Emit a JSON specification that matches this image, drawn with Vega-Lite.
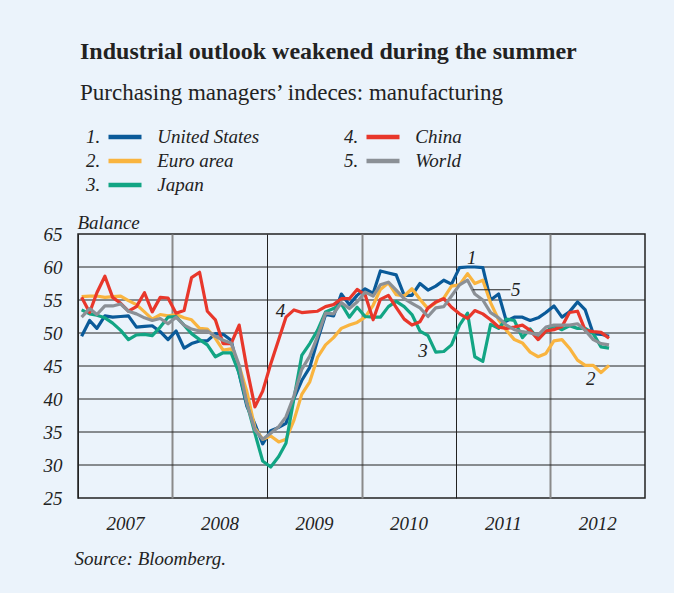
{
  "$schema": "https://vega.github.io/schema/vega-lite/v6.json",
  "width": 567,
  "height": 264,
  "padding": {"left": 43, "top": 40, "right": 29, "bottom": 25},
  "background": "#ebf3fb",
  "config": {
    "font": "Liberation Serif",
    "view": {"stroke": "#222", "strokeWidth": 1.5}
  },
  "title": {
    "text": "Industrial outlook weakened during the summer",
    "subtitle": "Purchasing managers’ indeces: manufacturing",
    "anchor": "start",
    "frame": "group",
    "dx": 2,
    "font": "Liberation Serif",
    "fontSize": 24,
    "fontWeight": "bold",
    "color": "#222",
    "subtitleFont": "Liberation Serif",
    "subtitleFontSize": 23,
    "subtitleColor": "#222",
    "subtitlePadding": 18,
    "offset": 21
  },
  "datasets": {
    "pmi": [
      {"date":"2007-01-15","United States":49.5,"Euro area":55.5,"Japan":53.5,"China":55.4,"World":52.4},
      {"date":"2007-02-15","United States":51.9,"Euro area":55.6,"Japan":52.9,"China":53.1,"World":53.7},
      {"date":"2007-03-15","United States":50.7,"Euro area":55.6,"Japan":52.7,"China":56.1,"World":52.8},
      {"date":"2007-04-15","United States":52.6,"Euro area":55.4,"Japan":52.3,"China":58.6,"World":54.1},
      {"date":"2007-05-15","United States":52.4,"Euro area":55.5,"Japan":51.5,"China":55.4,"World":54.1},
      {"date":"2007-06-15","United States":52.5,"Euro area":55.6,"Japan":50.4,"China":54.5,"World":54.4},
      {"date":"2007-07-15","United States":52.6,"Euro area":54.9,"Japan":49.0,"China":53.3,"World":53.3},
      {"date":"2007-08-15","United States":50.9,"Euro area":54.3,"Japan":49.7,"China":54.0,"World":52.9},
      {"date":"2007-09-15","United States":51.0,"Euro area":53.2,"Japan":49.8,"China":56.1,"World":52.3},
      {"date":"2007-10-15","United States":51.1,"Euro area":52.1,"Japan":49.6,"China":53.2,"World":51.9},
      {"date":"2007-11-15","United States":50.2,"Euro area":52.8,"Japan":50.9,"China":55.4,"World":52.2},
      {"date":"2007-12-15","United States":49.0,"Euro area":52.6,"Japan":52.4,"China":55.3,"World":51.4},
      {"date":"2008-01-15","United States":50.3,"Euro area":52.8,"Japan":52.5,"China":53.0,"World":52.4},
      {"date":"2008-02-15","United States":47.7,"Euro area":52.3,"Japan":51.2,"China":53.4,"World":51.2},
      {"date":"2008-03-15","United States":48.4,"Euro area":52.0,"Japan":49.9,"China":58.4,"World":50.6},
      {"date":"2008-04-15","United States":48.8,"Euro area":50.7,"Japan":49.0,"China":59.2,"World":50.3},
      {"date":"2008-05-15","United States":48.8,"Euro area":50.6,"Japan":48.2,"China":53.3,"World":50.3},
      {"date":"2008-06-15","United States":49.9,"Euro area":49.2,"Japan":46.4,"China":52.0,"World":49.5},
      {"date":"2008-07-15","United States":49.8,"Euro area":47.4,"Japan":47.0,"China":48.4,"World":48.9},
      {"date":"2008-08-15","United States":48.9,"Euro area":47.6,"Japan":47.0,"China":48.4,"World":48.5},
      {"date":"2008-09-15","United States":43.8,"Euro area":45.0,"Japan":43.9,"China":51.2,"World":45.1},
      {"date":"2008-10-15","United States":38.9,"Euro area":41.1,"Japan":39.3,"China":44.6,"World":39.3},
      {"date":"2008-11-15","United States":36.2,"Euro area":35.6,"Japan":34.8,"China":38.8,"World":35.3},
      {"date":"2008-12-15","United States":33.2,"Euro area":33.9,"Japan":30.6,"China":41.2,"World":33.9},
      {"date":"2009-01-15","United States":35.2,"Euro area":34.4,"Japan":29.7,"China":45.3,"World":34.8},
      {"date":"2009-02-15","United States":35.7,"Euro area":33.5,"Japan":31.3,"China":49.0,"World":35.8},
      {"date":"2009-03-15","United States":36.3,"Euro area":33.9,"Japan":33.3,"China":52.4,"World":37.3},
      {"date":"2009-04-15","United States":40.1,"Euro area":36.8,"Japan":40.1,"China":53.5,"World":40.5},
      {"date":"2009-05-15","United States":42.8,"Euro area":40.7,"Japan":46.6,"China":53.1,"World":44.5},
      {"date":"2009-06-15","United States":44.8,"Euro area":42.6,"Japan":48.4,"China":53.2,"World":46.5},
      {"date":"2009-07-15","United States":48.9,"Euro area":46.3,"Japan":50.4,"China":53.3,"World":49.5},
      {"date":"2009-08-15","United States":52.8,"Euro area":48.2,"Japan":53.2,"China":54.0,"World":53.0},
      {"date":"2009-09-15","United States":52.6,"Euro area":49.3,"Japan":53.7,"China":54.3,"World":52.9},
      {"date":"2009-10-15","United States":55.9,"Euro area":50.7,"Japan":54.4,"China":55.2,"World":54.6},
      {"date":"2009-11-15","United States":54.3,"Euro area":51.2,"Japan":52.4,"China":55.2,"World":53.7},
      {"date":"2009-12-15","United States":55.7,"Euro area":51.6,"Japan":53.9,"China":56.6,"World":54.7},
      {"date":"2010-01-15","United States":56.7,"Euro area":52.4,"Japan":52.5,"China":55.8,"World":56.2},
      {"date":"2010-02-15","United States":56.0,"Euro area":54.2,"Japan":52.4,"China":52.0,"World":55.6},
      {"date":"2010-03-15","United States":59.4,"Euro area":56.6,"Japan":52.4,"China":55.1,"World":57.3},
      {"date":"2010-04-15","United States":59.1,"Euro area":57.6,"Japan":54.0,"China":55.7,"World":57.7},
      {"date":"2010-05-15","United States":58.8,"Euro area":55.8,"Japan":54.8,"China":53.9,"World":56.5},
      {"date":"2010-06-15","United States":55.7,"Euro area":55.6,"Japan":54.0,"China":52.1,"World":55.2},
      {"date":"2010-07-15","United States":55.7,"Euro area":56.7,"Japan":52.8,"China":51.2,"World":54.5},
      {"date":"2010-08-15","United States":57.5,"Euro area":55.1,"Japan":50.3,"China":51.7,"World":53.8},
      {"date":"2010-09-15","United States":56.5,"Euro area":53.7,"Japan":49.6,"China":53.8,"World":52.5},
      {"date":"2010-10-15","United States":57.1,"Euro area":54.6,"Japan":47.1,"China":54.7,"World":53.8},
      {"date":"2010-11-15","United States":58.0,"Euro area":55.3,"Japan":47.2,"China":55.2,"World":54.0},
      {"date":"2010-12-15","United States":57.4,"Euro area":57.1,"Japan":48.2,"China":53.9,"World":55.6},
      {"date":"2011-01-15","United States":59.9,"Euro area":57.3,"Japan":51.2,"China":52.9,"World":57.3},
      {"date":"2011-02-15","United States":60.0,"Euro area":59.0,"Japan":53.0,"China":52.2,"World":58.0},
      {"date":"2011-03-15","United States":60.0,"Euro area":57.5,"Japan":46.4,"China":53.4,"World":55.9},
      {"date":"2011-04-15","United States":59.9,"Euro area":58.0,"Japan":45.7,"China":52.9,"World":55.0},
      {"date":"2011-05-15","United States":55.0,"Euro area":54.6,"Japan":51.3,"China":52.0,"World":53.1},
      {"date":"2011-06-15","United States":55.9,"Euro area":52.0,"Japan":50.7,"China":50.9,"World":52.3},
      {"date":"2011-07-15","United States":51.8,"Euro area":50.4,"Japan":52.1,"China":50.7,"World":51.2},
      {"date":"2011-08-15","United States":52.4,"Euro area":49.0,"Japan":51.9,"China":50.9,"World":50.5},
      {"date":"2011-09-15","United States":52.4,"Euro area":48.5,"Japan":49.3,"China":51.2,"World":50.2},
      {"date":"2011-10-15","United States":51.9,"Euro area":47.1,"Japan":50.6,"China":50.4,"World":50.0},
      {"date":"2011-11-15","United States":52.3,"Euro area":46.4,"Japan":49.1,"China":49.0,"World":49.7},
      {"date":"2011-12-15","United States":53.1,"Euro area":46.9,"Japan":50.2,"China":50.3,"World":50.9},
      {"date":"2012-01-15","United States":54.1,"Euro area":48.8,"Japan":51.1,"China":50.5,"World":51.2},
      {"date":"2012-02-15","United States":52.4,"Euro area":49.0,"Japan":50.5,"China":51.0,"World":51.2},
      {"date":"2012-03-15","United States":53.2,"Euro area":47.7,"Japan":51.1,"China":53.1,"World":51.2},
      {"date":"2012-04-15","United States":54.7,"Euro area":45.9,"Japan":50.7,"China":53.3,"World":51.4},
      {"date":"2012-05-15","United States":53.5,"Euro area":45.1,"Japan":50.7,"China":50.4,"World":50.4},
      {"date":"2012-06-15","United States":49.9,"Euro area":45.1,"Japan":49.9,"China":50.2,"World":49.0},
      {"date":"2012-07-15","United States":49.8,"Euro area":44.0,"Japan":47.9,"China":50.1,"World":48.4},
      {"date":"2012-08-15","United States":49.5,"Euro area":45.1,"Japan":47.7,"China":49.2,"World":48.2}
    ],
    "labels": [
      {"t": "1", "d": "2011-03-03", "v": 61.4},
      {"t": "5", "d": "2011-08-20", "v": 56.5},
      {"t": "3", "d": "2010-08-27", "v": 47.2},
      {"t": "4", "d": "2009-02-22", "v": 53.3},
      {"t": "2", "d": "2012-06-05", "v": 43.1}
    ],
    "leader": [
      {"start": "2011-03-07", "end": "2011-07-31", "v": 56.55}
    ],
    "hgrid": [
      {"v": 30}, {"v": 35}, {"v": 40}, {"v": 45}, {"v": 50}, {"v": 55}, {"v": 60}
    ]
  },
  "layer": [
    {
      "data": {"name": "hgrid"},
      "mark": {"type": "rule", "color": "#222", "strokeWidth": 1},
      "encoding": {
        "y": {"field": "v", "type": "quantitative"}
      }
    },
    {
      "data": {"name": "pmi"},
      "transform": [
        {"fold": ["United States", "Euro area", "Japan", "China", "World"], "as": ["series", "value"]}
      ],
      "mark": {"type": "line", "strokeWidth": 3.2, "strokeJoin": "round"},
      "encoding": {
        "x": {
          "field": "date",
          "type": "temporal",
          "scale": {
            "type": "utc",
            "domain": [
              {"year": 2007, "month": 1, "date": 1, "utc": true},
              {"year": 2013, "month": 1, "date": 1, "utc": true}
            ]
          },
          "axis": {
            "values": [
              {"year": 2007, "month": 1, "date": 1, "utc": true},
              {"year": 2008, "month": 1, "date": 1, "utc": true},
              {"year": 2009, "month": 1, "date": 1, "utc": true},
              {"year": 2010, "month": 1, "date": 1, "utc": true},
              {"year": 2011, "month": 1, "date": 1, "utc": true},
              {"year": 2012, "month": 1, "date": 1, "utc": true}
            ],
            "tickCount": 6,
            "format": "%Y",
            "labelOffset": 47,
            "labelFlush": false,
            "labelOverlap": false,
            "ticks": false,
            "domain": false,
            "grid": true,
            "gridColor": {"condition": {"test": "utcyear(datum.value) % 2 == 0", "value": "#8a8a8a"}, "value": "#222"},
            "gridWidth": {"condition": {"test": "utcyear(datum.value) % 2 == 0", "value": 2}, "value": 1},
            "labelFont": "Liberation Serif",
            "labelFontSize": 19,
            "labelFontStyle": "italic",
            "labelColor": "#222",
            "labelPadding": 16,
            "title": "Source: Bloomberg.",
            "titleFont": "Liberation Serif",
            "titleFontSize": 19,
            "titleFontStyle": "italic",
            "titleFontWeight": "normal",
            "titleColor": "#222",
            "titleAnchor": "start",
            "titleAlign": "left",
            "titleX": -4,
            "titleY": 51
          }
        },
        "y": {
          "field": "value",
          "type": "quantitative",
          "scale": {"domain": [25, 65], "nice": false, "zero": false},
          "axis": {
            "values": [25, 30, 35, 40, 45, 50, 55, 60, 65],
            "tickCount": 9,
            "labelOverlap": false,
            "ticks": false,
            "domain": false,
            "grid": false,
            "labelFont": "Liberation Serif",
            "labelFontSize": 19,
            "labelFontStyle": "italic",
            "labelColor": "#222",
            "labelPadding": 16,
            "title": "Balance",
            "titleFont": "Liberation Serif",
            "titleFontSize": 19,
            "titleFontStyle": "italic",
            "titleFontWeight": "normal",
            "titleColor": "#222",
            "titleAngle": 0,
            "titleAlign": "left",
            "titleBaseline": "alphabetic",
            "titleX": -1,
            "titleY": -6
          }
        },
        "color": {
          "field": "series",
          "type": "nominal",
          "scale": {
            "domain": ["United States", "Euro area", "Japan", "China", "World"],
            "range": ["#0a5a99", "#f9b43f", "#12a584", "#e8372b", "#8b9096"]
          },
          "legend": {
            "orient": "none",
            "legendX": 2,
            "legendY": -108,
            "direction": "vertical",
            "columns": 2,
            "title": null,
            "symbolType": "stroke",
            "symbolStrokeWidth": 4.5,
            "symbolSize": 1089,
            "symbolOffset": 26,
            "labelOffset": -58,
            "labelLimit": 400,
            "labelFont": "Liberation Serif",
            "labelFontSize": 19,
            "labelFontStyle": "italic",
            "labelColor": "#222",
            "columnPadding": 78,
            "rowPadding": 2,
            "clipHeight": 22,
            "labelExpr": "(datum.label == 'United States' ? '1.' : datum.label == 'Euro area' ? '2.' : datum.label == 'Japan' ? '3.' : datum.label == 'China' ? '4.' : '5.') + '\u00a0\u00a0\u00a0\u00a0\u00a0\u00a0\u00a0\u00a0\u00a0\u00a0\u00a0\u00a0' + datum.label"
          }
        }
      }
    },
    {
      "data": {"name": "leader"},
      "mark": {"type": "rule", "color": "#222", "strokeWidth": 1},
      "encoding": {
        "x": {"field": "start", "type": "temporal"},
        "x2": {"field": "end"},
        "y": {"field": "v", "type": "quantitative"}
      }
    },
    {
      "data": {"name": "labels"},
      "mark": {"type": "text", "font": "Liberation Serif", "fontStyle": "italic", "fontSize": 19, "color": "#222", "align": "center", "baseline": "middle"},
      "encoding": {
        "x": {"field": "d", "type": "temporal"},
        "y": {"field": "v", "type": "quantitative"},
        "text": {"field": "t"}
      }
    }
  ]
}
